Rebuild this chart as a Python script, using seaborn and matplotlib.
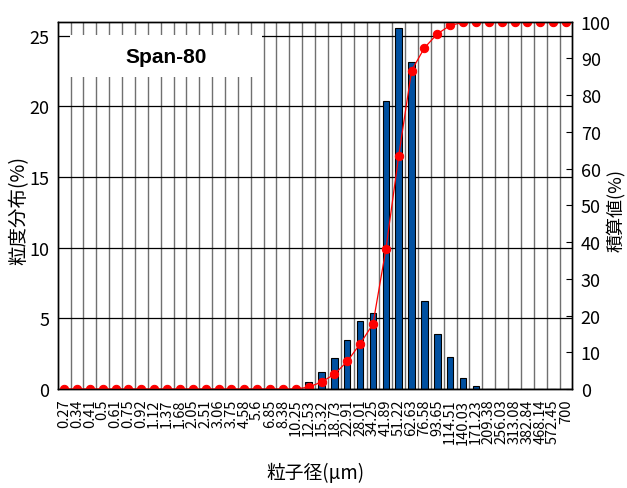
import matplotlib
matplotlib.use("Agg")
import matplotlib.pyplot as plt
import seaborn as sns
import pandas as pd
import numpy as np
from matplotlib.patches import Rectangle

# particle size classes (um)
SIZES = ["0.27", "0.34", "0.41", "0.5", "0.61", "0.75", "0.92", "1.12", "1.37", "1.68",
         "2.05", "2.51", "3.06", "3.75", "4.58", "5.6", "6.85", "8.38", "10.25", "12.53",
         "15.32", "18.73", "22.91", "28.01", "34.25", "41.89", "51.22", "62.63", "76.58", "93.65",
         "114.51", "140.03", "171.23", "209.38", "256.03", "313.08", "382.84", "468.14", "572.45", "700"]

# frequency (%) per class
FREQ = [0, 0, 0, 0, 0, 0, 0, 0, 0, 0,
        0, 0, 0, 0, 0, 0, 0, 0, 0, 0.5,
        1.2, 2.2, 3.5, 4.8, 5.35, 20.4, 25.55, 23.15, 6.25, 3.9,
        2.25, 0.8, 0.2, 0, 0, 0, 0, 0, 0, 0]

# cumulative (%)
CUMULATIVE = [0, 0, 0, 0, 0, 0, 0, 0, 0, 0,
              0, 0, 0, 0, 0, 0, 0, 0, 0, 0.5,
              1.9, 4.0, 7.5, 12.3, 17.7, 38.0, 63.5, 86.7, 92.9, 96.7,
              99.0, 99.8, 100, 100, 100, 100, 100, 100, 100, 100]

TITLE = "Span-80"

sns.set_style("white")
plt.rcParams['font.family'] = ['Noto Sans CJK JP', 'DejaVu Sans']
plt.rcParams['text.color'] = 'black'
plt.rcParams['axes.labelcolor'] = 'black'
plt.rcParams['xtick.color'] = 'black'
plt.rcParams['ytick.color'] = 'black'

df = pd.DataFrame({"size": SIZES, "freq": FREQ, "cum": CUMULATIVE})
df["pos"] = np.arange(len(df))

fig = plt.figure(figsize=(6.27, 4.89), dpi=100)
ax = fig.add_axes([0.092, 0.2025, 0.821, 0.751])

sns.barplot(data=df, x="pos", y="freq", ax=ax, color="#0050a0", width=0.5,
            edgecolor="black", linewidth=0.8, saturation=1, native_scale=True, zorder=2)

ax.set_xlim(-0.5, len(df) - 0.5)
ax.set_ylim(0, 26)
ax.set_yticks([0, 5, 10, 15, 20, 25])
ax.set_xticks(df["pos"])
ax.set_xticklabels(df["size"], rotation=90, fontsize=10.5)
ax.set_xticks(np.arange(0.5, len(df) - 1), minor=True)
ax.set_axisbelow(True)
ax.grid(False)
ax.grid(which="minor", axis="x", color="#707070", linewidth=1.0)
ax.grid(which="major", axis="y", color="black", linewidth=0.9)
ax.tick_params(axis="x", which="both", length=0, pad=7)
ax.tick_params(axis="y", direction="in", length=0, labelsize=13, pad=6)
ax.set_xlabel("粒子径(μm)", fontsize=13.5)
ax.xaxis.set_label_coords(0.5, -0.2)
ax.set_ylabel("粒度分布(%)", fontsize=14)
ax.yaxis.set_label_coords(-0.054, 0.49)
for sp in ax.spines.values():
    sp.set_color("black")
    sp.set_linewidth(1.0)

# label box in the upper left
ax.add_patch(Rectangle((0.024, 0.849), 0.373, 0.115, transform=ax.transAxes,
                       facecolor="white", edgecolor="none", zorder=1))
ax.text(0.21, 0.906, TITLE, transform=ax.transAxes, ha="center", va="center",
        fontsize=15, fontweight="bold", family="Liberation Sans", zorder=3)

ax2 = ax.twinx()
sns.lineplot(data=df, x="pos", y="cum", ax=ax2, color="red", linewidth=0.9,
             marker="o", markersize=6, markeredgecolor="red")
ax2.set_ylim(0, 100)
ax2.set_yticks(np.arange(0, 101, 10))
ax2.tick_params(axis="y", direction="in", length=4, labelsize=13, pad=6)
ax2.set_ylabel("積算値(%)", fontsize=13, rotation=90)
ax2.yaxis.set_label_coords(1.065, 0.49)
ax2.set_xlim(-0.5, len(df) - 0.5)
ax2.grid(False)
for sp in ax2.spines.values():
    sp.set_color("black")
    sp.set_linewidth(1.0)

fig.savefig("out.png", dpi=100)
